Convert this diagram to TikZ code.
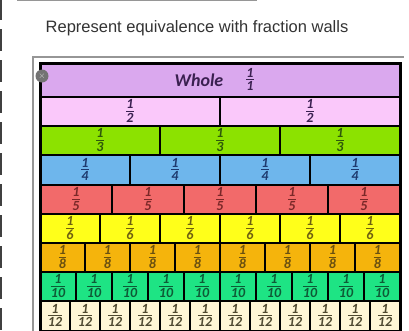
\documentclass[tikz,border=0pt]{standalone}
\usepackage{amsmath}
\usepackage{fontspec}
\setmainfont{Carlito}
\newfontfamily\titlefont{Liberation Sans}
\usetikzlibrary{positioning}
\definecolor{wholeFill}{RGB}{218,168,238}
\definecolor{halfFill}{RGB}{250,200,250}
\definecolor{thirdFill}{RGB}{140,226,0}
\definecolor{quarterFill}{RGB}{110,182,236}
\definecolor{fifthFill}{RGB}{242,106,106}
\definecolor{sixthFill}{RGB}{255,255,26}
\definecolor{eighthFill}{RGB}{245,180,12}
\definecolor{tenthFill}{RGB}{30,228,132}
\definecolor{twelfthFill}{RGB}{255,246,214}
\definecolor{purpleInk}{RGB}{58,32,80}
\definecolor{greenInk}{RGB}{46,90,10}
\definecolor{blueInk}{RGB}{30,58,110}
\definecolor{redInk}{RGB}{122,40,40}
\definecolor{oliveInk}{RGB}{110,96,16}
\definecolor{brownInk}{RGB}{106,80,16}
\definecolor{tealInk}{RGB}{14,90,54}
\definecolor{creamInk}{RGB}{78,72,48}
\definecolor{frameGrey}{RGB}{150,150,150}
\colorlet{titleInk}{black!80}
\tikzset{
  brick/.style={
    draw=black,
    line width=2pt,
    inner sep=0pt,
    outer sep=0pt,
    font=\fontsize{14}{15}\selectfont
  },
  walltitle/.style={font=\titlefont\fontsize{16.5}{16.5}\selectfont, text=titleInk},
  frame/.style={draw=frameGrey, line width=1.3pt}
}
\newcommand{\Frac}[1]{{\renewcommand{\arraystretch}{0}\setlength{\arrayrulewidth}{0.8pt}%
  \begin{tabular}{@{}c@{}}\rule[-2pt]{0pt}{11pt}\bfseries\itshape 1\\\hline
  \rule[-1pt]{0pt}{11.5pt}\bfseries\itshape #1\end{tabular}}}
\newcommand{\FractionRow}[6]{%
  \foreach \k in {1,...,#2}
    \node[brick, fill=#5, text=#6, minimum width={360pt/#2}, minimum height={(#4-#3)*1pt}]
      (#1\k) at ({40+(\k-0.5)*360/#2},{(#3+#4)/2}) {\Frac{#2}};
}

\begin{document}
\begin{tikzpicture}[x=1pt,y=-1pt]
  \useasboundingbox (0,0) rectangle (409,330);
  \fill[white] (0,0) rectangle (409,330);

  \draw[frameGrey, line width=1pt] (17,0.5) -- (257,0.5);
  \draw[black!75, line width=2pt, dash pattern=on 22pt off 9pt, dash phase=2pt] (1,0) -- (1,330);

  \node[walltitle] (title) at (197,28) {Represent equivalence with fraction walls};

  \draw[frame] (33,331) -- (33,57) -- (404,57);

  \node[brick, fill=wholeFill, minimum width=360pt, minimum height=34pt] (whole) at (220,80) {};
  \node[font=\fontsize{18}{18}\selectfont\bfseries\itshape, text=purpleInk] (wholetxt) at (199,80) {Whole};
  \node[font=\fontsize{14}{15}\selectfont, text=purpleInk, inner sep=0pt] (wholefrac) at (250,80) {\Frac{1}};

  \FractionRow{half}{2}{97}{126}{halfFill}{purpleInk}
  \FractionRow{third}{3}{126}{155}{thirdFill}{greenInk}
  \FractionRow{quarter}{4}{155}{185}{quarterFill}{blueInk}
  \FractionRow{fifth}{5}{185}{214}{fifthFill}{redInk}
  \FractionRow{sixth}{6}{214}{243}{sixthFill}{oliveInk}
  \FractionRow{eighth}{8}{243}{272}{eighthFill}{brownInk}
  \FractionRow{tenth}{10}{272}{301}{tenthFill}{tealInk}
  \FractionRow{twelfth}{12}{301}{331}{twelfthFill}{creamInk}

  \draw[black, line width=3pt] (40,63) rectangle (400,331);

  \node[circle, fill=black!55, minimum size=13pt, inner sep=0pt, text=white!85!black,
    font=\fontsize{9}{9}\selectfont] (closebtn) at (42,76) {$\times$};
\end{tikzpicture}
\end{document}
